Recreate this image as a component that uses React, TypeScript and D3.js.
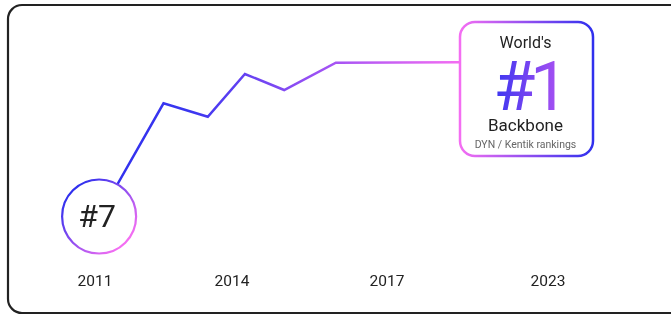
import React, { useEffect, useRef } from 'react';
import * as d3 from 'd3';

// Tick years and where they sit on the axis (the axis is not evenly spaced)
const tickYears = [2011, 2014, 2017, 2023];
const tickLabels = ['2011', '2014', '2017', '2023'];

// Ranking path: fractional year position and a relative standing score (0-100)
const pointYears = [2011.09, 2012.5, 2013.47, 2014.25, 2015.01, 2016.01, 2019.7];
const pointScores = [16.75, 73.35, 66.65, 88, 80, 93.65, 93.85];

const startRank = '#7';
const endRank = '#1';

const W = 671;
const H = 316;

export default function App() {
  const svgRef = useRef<SVGSVGElement>(null);

  useEffect(() => {
    if (!svgRef.current) return;
    const svg = d3.select(svgRef.current);
    svg.selectAll('*').remove();

    const font = 'Roboto, "Noto Sans", sans-serif';

    const x = d3.scaleLinear().domain(tickYears).range([95, 232, 387, 548]);
    const y = d3.scaleLinear().domain([0, 100]).range([250, 50]);

    const defs = svg.append('defs');

    const lineGrad = defs.append('linearGradient')
      .attr('id', 'line-grad')
      .attr('gradientUnits', 'userSpaceOnUse')
      .attr('x1', x(pointYears[0])).attr('y1', 0)
      .attr('x2', 460).attr('y2', 0);
    lineGrad.append('stop').attr('offset', '0%').attr('stop-color', '#3030ee');
    lineGrad.append('stop').attr('offset', '25%').attr('stop-color', '#3a36f0');
    lineGrad.append('stop').attr('offset', '60%').attr('stop-color', '#9a50f4');
    lineGrad.append('stop').attr('offset', '100%').attr('stop-color', '#f46ef2');

    const circGrad = defs.append('linearGradient')
      .attr('id', 'circ-grad')
      .attr('x1', '15%').attr('y1', '15%')
      .attr('x2', '85%').attr('y2', '85%');
    circGrad.append('stop').attr('offset', '0%').attr('stop-color', '#3030ee');
    circGrad.append('stop').attr('offset', '100%').attr('stop-color', '#f46ef2');

    const boxGrad = defs.append('linearGradient')
      .attr('id', 'box-grad')
      .attr('x1', '0%').attr('y1', '0%')
      .attr('x2', '100%').attr('y2', '0%');
    boxGrad.append('stop').attr('offset', '0%').attr('stop-color', '#f46ef2');
    boxGrad.append('stop').attr('offset', '100%').attr('stop-color', '#3030ee');

    const numGrad = defs.append('linearGradient')
      .attr('id', 'num-grad')
      .attr('x1', '0%').attr('y1', '0%')
      .attr('x2', '100%').attr('y2', '0%');
    numGrad.append('stop').attr('offset', '0%').attr('stop-color', '#3a36f0');
    numGrad.append('stop').attr('offset', '100%').attr('stop-color', '#b052f2');

    // Outer frame
    svg.append('rect')
      .attr('x', 8).attr('y', 5)
      .attr('width', 680).attr('height', 308)
      .attr('rx', 14)
      .attr('fill', '#fff')
      .attr('stroke', '#222')
      .attr('stroke-width', 2.2);

    const data = pointYears.map((yr, i) => ({ yr, score: pointScores[i] }));

    const line = d3.line<{ yr: number; score: number }>()
      .x(d => x(d.yr))
      .y(d => y(d.score));

    svg.append('path')
      .datum(data)
      .attr('fill', 'none')
      .attr('stroke', 'url(#line-grad)')
      .attr('stroke-width', 2.5)
      .attr('stroke-linejoin', 'miter')
      .attr('d', line);

    // Start badge
    const cx = x(pointYears[0]);
    const cy = y(pointScores[0]);
    svg.append('circle')
      .attr('cx', cx).attr('cy', cy)
      .attr('r', 37)
      .attr('fill', '#fff')
      .attr('stroke', 'url(#circ-grad)')
      .attr('stroke-width', 2.2);

    svg.append('text')
      .attr('x', cx - 2).attr('y', cy + 10)
      .attr('text-anchor', 'middle')
      .attr('font-family', font)
      .attr('font-size', 32)
      .attr('fill', '#222')
      .text(startRank);

    // End badge
    const bx = 460;
    const by = 22;
    const bw = 133;
    const bh = 134;
    const bc = bx + bw / 2 - 1;
    svg.append('rect')
      .attr('x', bx).attr('y', by)
      .attr('width', bw).attr('height', bh)
      .attr('rx', 15)
      .attr('fill', '#fff')
      .attr('stroke', 'url(#box-grad)')
      .attr('stroke-width', 2.5);

    svg.append('text')
      .attr('x', bc).attr('y', by + 26)
      .attr('text-anchor', 'middle')
      .attr('font-family', font)
      .attr('font-size', 16)
      .attr('fill', '#222')
      .text("World's");

    svg.append('text')
      .attr('x', bc + 3).attr('y', by + 88)
      .attr('text-anchor', 'middle')
      .attr('font-family', font)
      .attr('font-size', 68)
      .attr('letter-spacing', -5)
      .attr('fill', 'url(#num-grad)')
      .text(endRank);

    svg.append('text')
      .attr('x', bc).attr('y', by + 109)
      .attr('text-anchor', 'middle')
      .attr('font-family', font)
      .attr('font-size', 17)
      .attr('fill', '#222')
      .text('Backbone');

    svg.append('text')
      .attr('x', bc).attr('y', by + 126)
      .attr('text-anchor', 'middle')
      .attr('font-family', font)
      .attr('font-size', 10.5)
      .attr('fill', '#666')
      .text('DYN / Kentik rankings');

    // Year labels
    svg.append('g')
      .selectAll('text')
      .data(tickYears)
      .enter()
      .append('text')
      .attr('x', d => x(d))
      .attr('y', 286)
      .attr('text-anchor', 'middle')
      .attr('font-family', font)
      .attr('font-size', 15.5)
      .attr('fill', '#222')
      .text((d, i) => tickLabels[i]);
  }, []);

  return (
    <svg
      ref={svgRef}
      width={W}
      height={H}
      style={{ position: 'fixed', left: 0, top: 0, display: 'block' }}
    />
  );
}
